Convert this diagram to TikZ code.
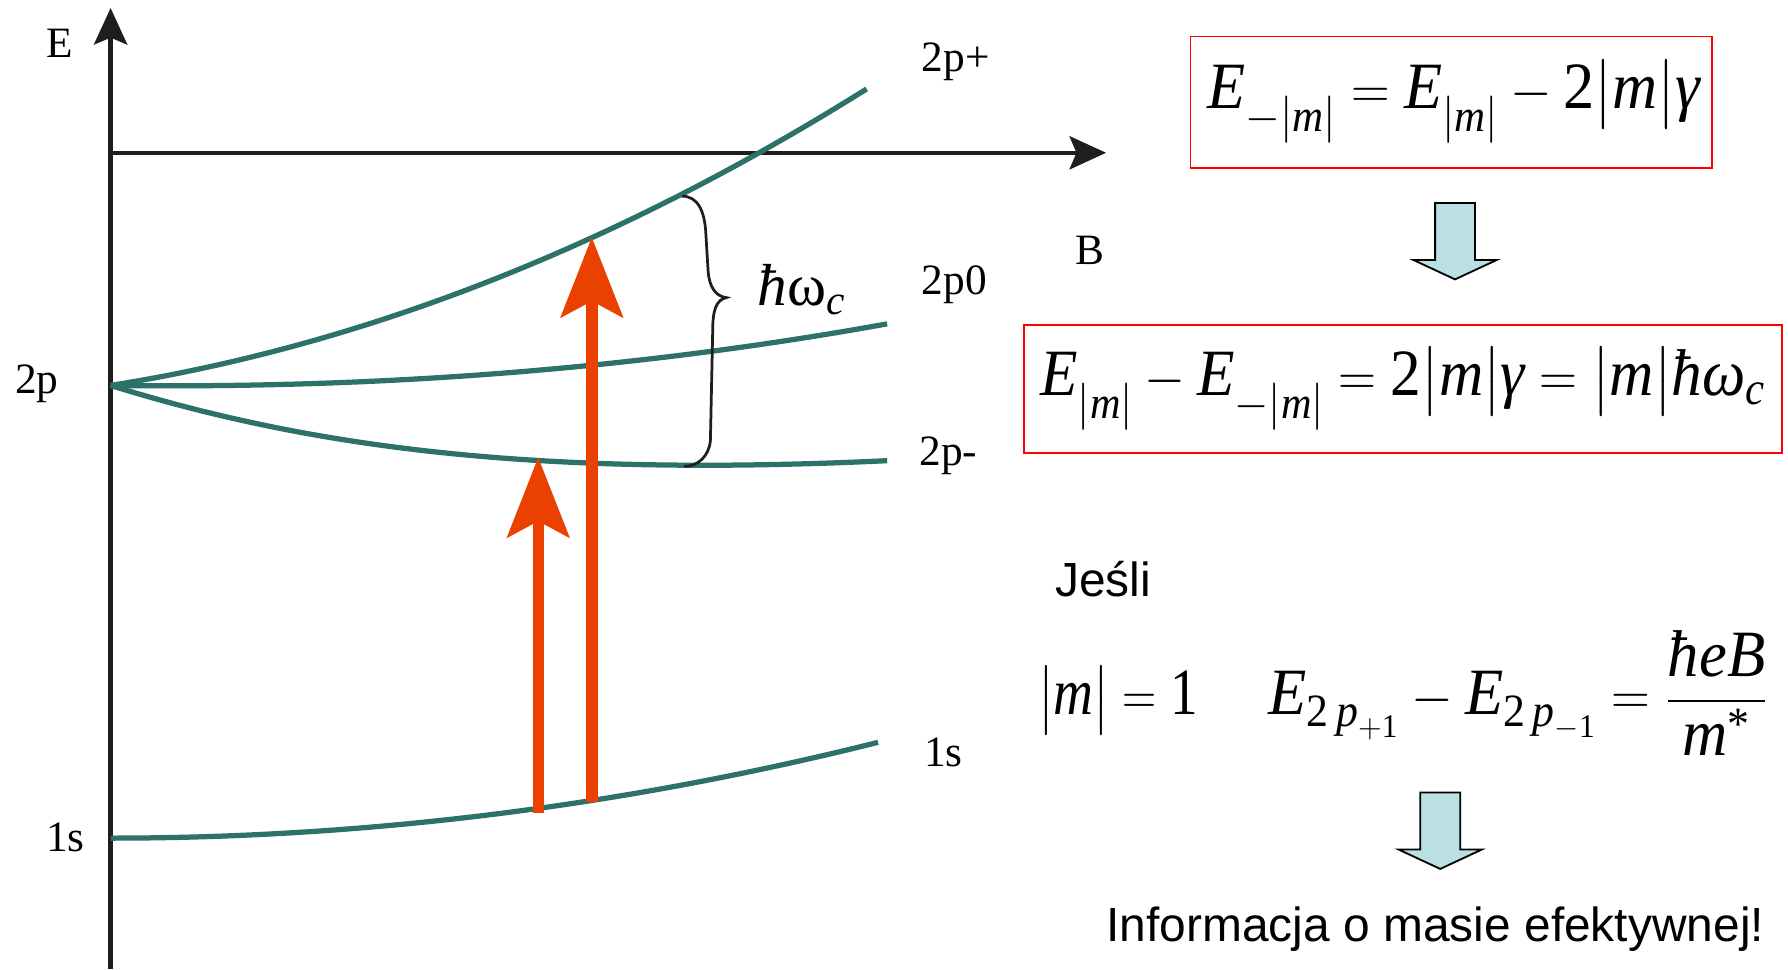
\documentclass[tikz,border=0pt]{standalone}
\usepackage{amsmath}
\usepackage{graphicx}
\usepackage{fontspec}
\setmainfont{Liberation Serif}
\newfontfamily\arialf{Liberation Sans}
\newcommand\iv[1]{\text{\itshape #1}}
\newcommand\rv[1]{\text{\upshape #1}}
\newcommand\lowsub[1]{\raisebox{-10pt}{\fontsize{20}{24}\selectfont$#1$}}
\usetikzlibrary{arrows.meta}
\definecolor{curvec}{RGB}{44,114,104}
\definecolor{redarr}{RGB}{234,64,0}
\definecolor{boxred}{RGB}{255,0,0}
\definecolor{blockblue}{RGB}{186,224,228}
\definecolor{axisc}{RGB}{30,30,30}
\begin{document}
\begin{tikzpicture}[x=0.5pt,y=-0.5pt,
  axis/.style={line width=2pt, draw=axisc, -{Stealth[length=16pt,width=14.5pt,inset=3pt]}},
  level/.style={line width=2.3pt, draw=curvec},
  lbl/.style={font=\fontsize{19}{22}\selectfont, inner sep=0pt, anchor=base west},
  excite/.style={line width=5pt, draw=redarr, -{Stealth[length=35pt,width=27pt,inset=7pt]}},
  bracestyle/.style={line width=1.2pt, draw=axisc},
  eqbox/.style={draw=boxred, line width=0.8pt, inner sep=0pt, font=\fontsize{29}{34}\selectfont},
  eqtext/.style={inner sep=0pt, font=\fontsize{29}{34}\selectfont},
  sanslbl/.style={inner sep=0pt, anchor=base west, font=\arialf\fontsize{21}{25}\selectfont},
  blockarrow/.style={fill=blockblue, draw=black, line width=0.8pt, line join=miter}
]
\useasboundingbox (0,0) rectangle (1568,850);

% axes
\coordinate (O) at (97,850);
\coordinate (Etop) at (97,7);
\coordinate (Bstart) at (97,134);
\coordinate (Bend) at (970,134);
\draw[axis] (O) -- (Etop);
\draw[axis] (Bstart) -- (Bend);

% levels
\coordinate (p2) at (97,338);
\coordinate (p1s) at (97,735);
\coordinate (e2pp) at (760,78);
\coordinate (e2p0) at (778,284);
\coordinate (e2pm) at (778,404);
\coordinate (e1s) at (770,651);
\draw[level] (p2) .. controls (318,303) and (539,216.5) .. (e2pp);
\draw[level] (p2) .. controls (324,341) and (551,325) .. (e2p0);
\draw[level] (p2) .. controls (280,395) and (480,418) .. (e2pm);
\draw[level] (p1s) .. controls (321,735) and (546,707) .. (e1s);

% labels
\node[lbl] (lE) at (40,50) {E};
\node[lbl] (lB) at (943,232) {B};
\node[lbl] (l2pL) at (13,345) {2p};
\node[lbl] (l1sL) at (40,747) {1s};
\node[lbl] (l2pp) at (808,63) {2p+};
\node[lbl] (l2p0) at (808,258) {2p0};
\node[lbl] (l2pm) at (806,408) {2p-};
\node[lbl] (l1sR) at (810,672) {1s};

% brace
\draw[bracestyle] (598,172) .. controls (612,172) and (618,185) .. (619,205) -- (621,238)
  .. controls (622,252) and (628,260) .. (637,261)
  .. controls (628,263) and (625,272) .. (625,290) -- (623,386)
  .. controls (622,400) and (612,409) .. (600,409);
\node[inner sep=0pt, anchor=base west, font=\fontsize{26}{30}\selectfont] (hw) at (664,268) {$\iv{ħ}\rv{ω}_{\iv{c}}$};

% transitions
\coordinate (t1a) at (472,713);
\coordinate (t1b) at (472,401);
\coordinate (t2a) at (519,703);
\coordinate (t2b) at (519,208);
\draw[excite] (t1a) -- (t1b);
\draw[excite] (t2a) -- (t2b);

% equations
\node[eqbox, minimum width=228.5pt, minimum height=57.5pt] (box1) at (1272.5,89.5)
  {\hspace*{2.5pt}\raisebox{-4pt}{\resizebox{216pt}{\height}{$\iv{E}\lowsub{-|\iv{m}|} = \iv{E}\lowsub{|\iv{m}|} - \rv{2}\bigl|\iv{m}\bigr|\iv{γ}$}}};
\node[eqbox, minimum width=332.5pt, minimum height=56pt] (box2) at (1230.5,341)
  {\raisebox{-4pt}{\resizebox{318pt}{\height}{$\iv{E}\lowsub{|\iv{m}|} - \iv{E}\lowsub{-|\iv{m}|} = \rv{2}\bigl|\iv{m}\bigr|\iv{γ} = \bigl|\iv{m}\bigr|\iv{ħ}\iv{ω}_{\iv{c}}$}}};

\begin{scope}[shift={(1276,178)}]
\path[blockarrow] (-17.5,0) -- (17.5,0) -- (17.5,50) -- (36.5,50) -- (0,67) -- (-36.5,50) -- (-17.5,50) -- cycle;
\end{scope}

\node[sanslbl] (jesli) at (925,523) {Jeśli};
\node[eqtext, anchor=base west] (eq3a) at (910,627)
  {\resizebox{70pt}{\height}{$\bigl|\iv{m}\bigr| = \rv{1}$}};
\node[eqtext, anchor=base west] (eq3b) at (1112,627)
  {\resizebox{219pt}{\height}{$\iv{E}_{\rv{2}\,\iv{p}_{+\rv{1}}} - \iv{E}_{\rv{2}\,\iv{p}_{-\rv{1}}} = {\displaystyle\frac{\iv{ħeB}}{\iv{m}^{\rv{*}}}}$}};

\begin{scope}[shift={(1263,695)}]
\path[blockarrow] (-17.5,0) -- (17.5,0) -- (17.5,50) -- (36.5,50) -- (0,67) -- (-36.5,50) -- (-17.5,50) -- cycle;
\end{scope}

\node[sanslbl] (info) at (970,826) {Informacja o masie efektywnej!};
\end{tikzpicture}
\end{document}
